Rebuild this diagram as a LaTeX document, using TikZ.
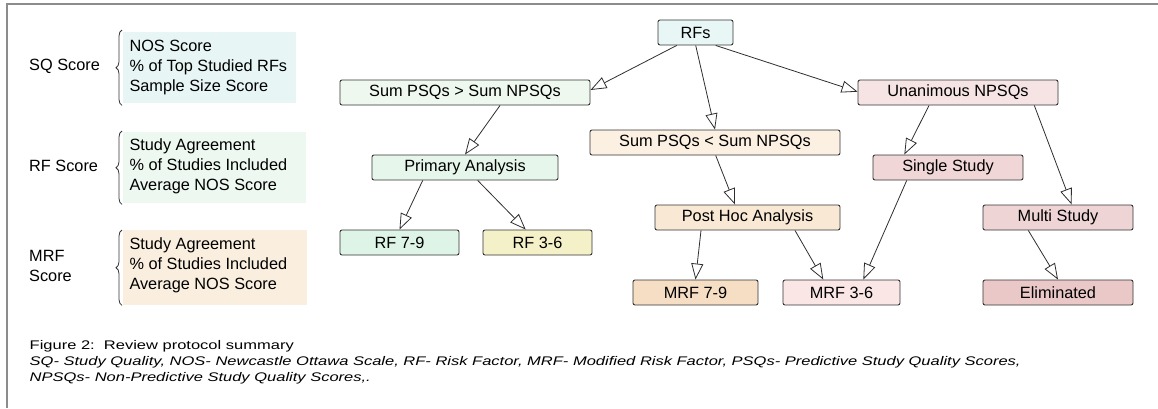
\documentclass[tikz,border=0pt]{standalone}
\usepackage{fontspec}
\setmainfont{Liberation Sans}
\usetikzlibrary{arrows.meta,decorations.pathreplacing}
\definecolor{bordergray}{HTML}{8C8C8C}
\definecolor{edgecol}{HTML}{333333}
\definecolor{cRFs}{HTML}{E8F6F6}
\definecolor{cSumGt}{HTML}{EEF8EE}
\definecolor{cPrim}{HTML}{E6F6EA}
\definecolor{cRFa}{HTML}{DDF4E6}
\definecolor{cRFb}{HTML}{F4F0C8}
\definecolor{cSumLt}{HTML}{FBF0E2}
\definecolor{cPost}{HTML}{F8E8D4}
\definecolor{cMRFa}{HTML}{F5DEC4}
\definecolor{cUnan}{HTML}{F6E4E4}
\definecolor{cSingle}{HTML}{F0D6D6}
\definecolor{cMulti}{HTML}{EED4D4}
\definecolor{cMRFb}{HTML}{FBE6E6}
\definecolor{cElim}{HTML}{EBC8C8}
\definecolor{cSQ}{HTML}{E8F5F5}
\definecolor{cRFbox}{HTML}{EDF8F0}
\definecolor{cMRFbox}{HTML}{FAEEDF}
\tikzset{
  flowbox/.style={draw=edgecol, rounded corners=2pt, minimum height=25pt, inner sep=0pt,
    line width=0.9pt, font=\fontsize{16.3}{19}\selectfont},
  flowarrow/.style={draw=edgecol!90!black, line width=0.8pt,
    -{Triangle[open,length=16pt,width=12pt]}},
  listbg/.style={anchor=north west, inner sep=0pt},
  listtext/.style={anchor=west, inner sep=0pt, align=left,
    font=\fontsize{16.3}{20}\selectfont},
  sidelabel/.style={anchor=west, inner sep=0pt, align=left, font=\fontsize{16.3}{20}\selectfont},
  bracemark/.style={decorate, decoration={brace, amplitude=6pt}, line width=0.8pt, draw=edgecol},
  captext/.style={anchor=base west, inner sep=0pt, font=\fontsize{12.5}{15}\selectfont},
}
\begin{document}
\begin{tikzpicture}[x=1pt,y=-1pt]
\useasboundingbox (0,0) rectangle (1158,408);
% frame
\draw[bordergray, line width=2pt] (7,408) -- (7,4) -- (1158,4);

% left legend
\node[sidelabel] (sqlab) at (29,66) {SQ Score};
\node[sidelabel] (rflab) at (29,166) {RF Score};
\node[sidelabel] (mrflab) at (29,266) {MRF\\Score};

\node[listbg, fill=cSQ, minimum width=173pt, minimum height=71pt] (sqbox) at (123,32) {};
\node[listbg, fill=cRFbox, minimum width=183pt, minimum height=71pt] (rfbox) at (123,132) {};
\node[listbg, fill=cMRFbox, minimum width=184pt, minimum height=75pt] (mrfbox) at (123,230) {};

\node[listtext] (sqtxt) at ([xshift=6.3pt,yshift=0pt]sqbox.west)
  {NOS Score\\\% of Top Studied RFs\\Sample Size Score};
\node[listtext] (rftxt) at ([xshift=6.3pt,yshift=1pt]rfbox.west)
  {Study Agreement\\\% of Studies Included\\Average NOS Score};
\node[listtext] (mrftxt) at ([xshift=6.3pt,yshift=2pt]mrfbox.west)
  {Study Agreement\\\% of Studies Included\\Average NOS Score};

\draw[bracemark] ([xshift=-1pt,yshift=-2pt]sqbox.south west) -- ([xshift=-1pt,yshift=2pt]sqbox.north west);
\draw[bracemark] ([xshift=-1pt,yshift=-1pt]rfbox.south west) -- ([xshift=-1pt,yshift=1pt]rfbox.north west);
\draw[bracemark] ([xshift=-1pt]mrfbox.south west) -- ([xshift=-1pt]mrfbox.north west);

% flow nodes
\node[flowbox, fill=cRFs, minimum width=75pt] (rfs) at (695.5,32.5) {RFs};
\node[flowbox, fill=cSumGt, minimum width=250pt] (sumgt) at (465,92.5) {Sum PSQs > Sum NPSQs};
\node[flowbox, fill=cPrim, minimum width=186pt] (prim) at (465,167.5) {Primary Analysis};
\node[flowbox, fill=cRFa, minimum width=119pt] (rf79) at (399.5,242.5) {RF 7-9};
\node[flowbox, fill=cRFb, minimum width=109pt] (rf36) at (537.5,242.5) {RF 3-6};
\node[flowbox, fill=cSumLt, minimum width=250pt] (sumlt) at (715,142.5) {Sum PSQs < Sum NPSQs};
\node[flowbox, fill=cPost, minimum width=185pt] (post) at (747.5,217.5) {Post Hoc Analysis};
\node[flowbox, fill=cMRFa, minimum width=125pt] (mrf79) at (695.5,292.5) {MRF 7-9};
\node[flowbox, fill=cUnan, minimum width=200pt] (unan) at (958,92.5) {Unanimous NPSQs};
\node[flowbox, fill=cSingle, minimum width=150pt] (single) at (948,167.5) {Single Study};
\node[flowbox, fill=cMulti, minimum width=150pt] (multi) at (1058,217.5) {Multi Study};
\node[flowbox, fill=cMRFb, minimum width=117pt] (mrf36) at (841.5,292.5) {MRF 3-6};
\node[flowbox, fill=cElim, minimum width=150pt] (elim) at (1058,292.5) {Eliminated};

% connectors
\draw[flowarrow] ([xshift=-18.8pt]rfs.south) -- ([yshift=2.5pt]sumgt.east);
\draw[flowarrow] ([xshift=0.2pt]rfs.south) -- (sumlt.north);
\draw[flowarrow] ([xshift=20.2pt]rfs.south) -- ([yshift=0.8pt]unan.west);
\draw[flowarrow] ([xshift=35pt]sumgt.south) -- (prim.north);
\draw[flowarrow] ([xshift=-42.3pt]prim.south) -- (rf79.north);
\draw[flowarrow] ([xshift=12.7pt]prim.south) -- ([xshift=-11.8pt]rf36.north);
\draw[flowarrow] ([xshift=0.7pt]sumlt.south) -- ([xshift=-12.5pt]post.north);
\draw[flowarrow] ([xshift=-46.5pt]post.south) -- (mrf79.north);
\draw[flowarrow] ([xshift=47.5pt]post.south) -- ([xshift=-18.2pt]mrf36.north);
\draw[flowarrow] ([xshift=-29pt]unan.south) -- ([xshift=-43.7pt]single.north);
\draw[flowarrow] ([xshift=76.3pt]unan.south) -- ([xshift=13.7pt]multi.north);
\draw[flowarrow] ([xshift=-41.3pt]single.south) -- ([xshift=21.8pt]mrf36.north);
\draw[flowarrow] ([xshift=-29.7pt]multi.south) -- (elim.north);

% caption
\node[captext] (cap1) at (29.5,349) {\scalebox{1.32}[1]{Figure 2:\ \ Review protocol summary}};
\node[captext] (cap2) at (29.5,365) {\scalebox{1.32}[1]{\itshape SQ- Study Quality, NOS- Newcastle Ottawa Scale, RF- Risk Factor, MRF- Modified Risk Factor, PSQs- Predictive Study Quality Scores,}};
\node[captext] (cap3) at (29.5,381) {\scalebox{1.32}[1]{\itshape NPSQs- Non-Predictive Study Quality Scores,.}};
\end{tikzpicture}
\end{document}
